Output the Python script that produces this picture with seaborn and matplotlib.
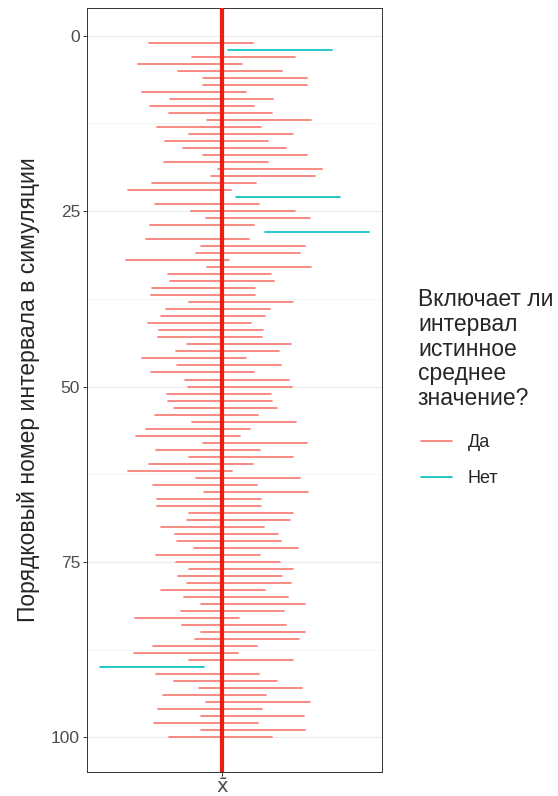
import numpy as np
import pandas as pd
import matplotlib
matplotlib.use('Agg')
import matplotlib.pyplot as plt
import seaborn as sns
from matplotlib.ticker import FixedLocator

#-- Data: interval bounds (true mean at 0)

lower = [-220, 18, -92, -253, -133, -57, -59, -241, -157, -217,
         -161, -46, -196, -99, -174, -119, -57, -176, -14, -33,
         -211, -285, 42, -203, -93, -50, -218, 128, -231, -63,
         -79, -291, -45, -165, -157, -213, -215, -100, -170, -185,
         -225, -190, -193, -105, -141, -243, -136, -216, -112, -102,
         -167, -164, -147, -204, -92, -230, -260, -59, -199, -101,
         -220, -283, -78, -208, -54, -198, -198, -100, -107, -186,
         -144, -137, -85, -201, -139, -100, -134, -106, -185, -114,
         -64, -126, -264, -121, -64, -81, -209, -265, -100, -367,
         -200, -147, -71, -180, -49, -194, -65, -205, -65, -161]

upper = [91, 330, 219, 59, 179, 256, 254, 71, 154, 95,
         150, 266, 117, 213, 138, 193, 256, 136, 299, 279,
         101, 27, 355, 109, 219, 263, 95, 441, 81, 249,
         234, 21, 268, 147, 156, 99, 97, 213, 143, 128,
         87, 122, 120, 207, 172, 70, 176, 96, 201, 211,
         146, 148, 166, 108, 221, 82, 53, 254, 114, 212,
         92, 29, 235, 105, 259, 115, 115, 213, 205, 126,
         169, 176, 229, 112, 174, 213, 179, 207, 127, 199,
         250, 187, 49, 192, 249, 232, 104, 46, 213, -54,
         111, 165, 241, 132, 263, 118, 247, 107, 248, 151]

true_mean = 0
ids = list(range(1, 101))

#-- Long format for seaborn (two points per interval)

rows = []
for i, lo, hi in zip(ids, lower, upper):
    status = 'Да' if lo <= true_mean <= hi else 'Нет'
    rows.append({'id': i, 'x': lo, 'status': status})
    rows.append({'id': i, 'x': hi, 'status': status})
df = pd.DataFrame(rows)

#-- Style

sns.set_style('white')
plt.rcParams['font.family'] = ['Liberation Sans', 'DejaVu Sans']

fig = plt.figure(figsize=(5.58, 7.96), dpi=100)
ax = fig.add_axes([0.156, 0.030, 0.529, 0.960])

ax.yaxis.set_major_locator(FixedLocator([0, 25, 50, 75, 100]))
ax.yaxis.set_minor_locator(FixedLocator([12.5, 37.5, 62.5, 87.5]))
ax.grid(axis='y', which='major', color='#EBEBEB', linewidth=0.8)
ax.grid(axis='y', which='minor', color='#F2F2F2', linewidth=0.5)
ax.set_axisbelow(True)

sns.lineplot(data=df, x='x', y='id', units='id', estimator=None, hue='status',
             hue_order=['Да', 'Нет'], palette={'Да': '#F8766D', 'Нет': '#00BFC4'},
             linewidth=1.2, ax=ax)

ax.axvline(true_mean, color='#EE1C12', linewidth=3.0, zorder=5)

ax.margins(x=0.05, y=0.05)
ax.invert_yaxis()

ax.set_xticks([true_mean])
ax.set_xticklabels([r'$\bar{\mathrm{x}}$'], fontsize=14, color='#4D4D4D')
ax.tick_params(axis='y', which='major', labelsize=12.5, labelcolor='#4D4D4D',
               length=3, width=0.7, color='#333333', left=True, pad=2)
ax.tick_params(axis='x', length=3, width=0.7, color='#333333', bottom=True, pad=1)
ax.tick_params(axis='y', which='minor', length=0)

for s in ax.spines.values():
    s.set_color('#333333')
    s.set_linewidth(0.7)

ax.set_xlabel('')
ax.set_ylabel('Порядковый номер интервала в симуляции', fontsize=16.5, labelpad=8)

#-- Legend (title drawn separately for spacing control)

fig.text(418 / 558, 1 - 288 / 796, 'Включает ли\nинтервал\nистинное\nсреднее\nзначение?',
         fontsize=16.5, ha='left', va='top', linespacing=1.1)

handles, labels = ax.get_legend_handles_labels()
leg = fig.legend(handles, labels, loc='upper left',
                 bbox_to_anchor=(421 / 558, 1 - 434 / 796), bbox_transform=fig.transFigure,
                 frameon=False, fontsize=13, handlelength=1.7, labelspacing=1.05,
                 handletextpad=0.9, borderpad=0, borderaxespad=0)
if ax.get_legend():
    ax.get_legend().remove()

plt.savefig('out.png', dpi=100)
